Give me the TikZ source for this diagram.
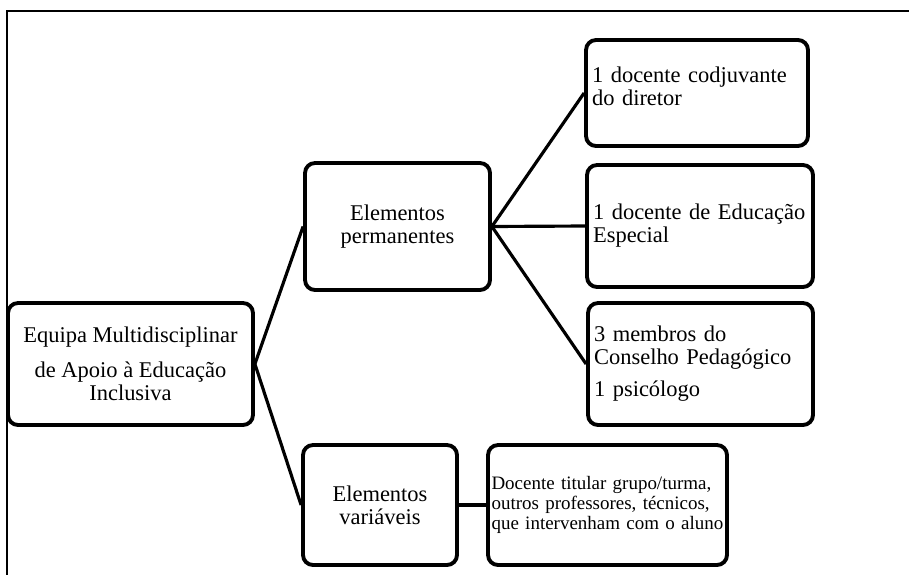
\documentclass[tikz,border=0pt]{standalone}
\usepackage{fontspec}
\setmainfont{Liberation Serif}
\usepackage{tikz}
\tikzset{%
  plainline/.style = {line width=1.8pt},
  c/.style = {rectangle,draw,rounded corners=0.2cm,line width=2.2pt,
        align=center,font=\fontsize{12.8}{13.1}\selectfont},
  tx/.style = {rectangle,draw,rounded corners=0.2cm,line width=2.2pt,
        align=left,inner xsep=0.12cm,font=\fontsize{12.8}{13.1}\selectfont}
}

\begin{document}
\begin{tikzpicture}[x=0.02cm,y=-0.02cm]
\useasboundingbox (0,0) rectangle (909,575);
\draw[line width=1.2pt] (909,11) -- (7,11) -- (7,575);

\node[c,minimum width=4.9cm,minimum height=2.44cm] (equipa) at (130.5,364)
    {Equipa Multidisciplinar\\[0.24cm]de Apoio à Educação\\Inclusiva};
\node[c,minimum width=3.7cm,minimum height=2.54cm] (permanentes) at (397.5,226.5)
    {Elementos\\permanentes};
\node[c,minimum width=3.08cm,minimum height=2.4cm] (variaveis) at (380,505)
    {Elementos\\variáveis};

\node[tx,text width=4.2cm,minimum height=2.12cm] (diretor) at (697,93)
    {1 docente codjuvante\\do diretor\\[-0.18cm]\mbox{}};
\node[tx,text width=4.28cm,minimum height=2.44cm] (especial) at (700,226)
    {1 docente de Educação\\Especial};
\node[tx,text width=4.26cm,minimum height=2.44cm] (conselho) at (700.5,364)
    {3 membros do\\Conselho Pedagógico\\[0.18cm]1 psicólogo};
\node[tx,inner xsep=0.07cm,text width=4.64cm,minimum height=2.4cm,
    font=\fontsize{10.8}{11.4}\selectfont] (titular) at (607.5,505)
    {Docente titular grupo/turma,\\outros professores, técnicos,\\que intervenham com o aluno};

\draw[plainline] (equipa.east) -- (permanentes.west);
\draw[plainline] (equipa.east) -- (variaveis.west);
\draw[plainline] (permanentes.east) -- (diretor.west);
\draw[plainline] (permanentes.east) -- (especial.west);
\draw[plainline] (permanentes.east) -- (conselho.west);
\draw[plainline] (variaveis.east) -- (titular.west);
\end{tikzpicture}
\end{document}
